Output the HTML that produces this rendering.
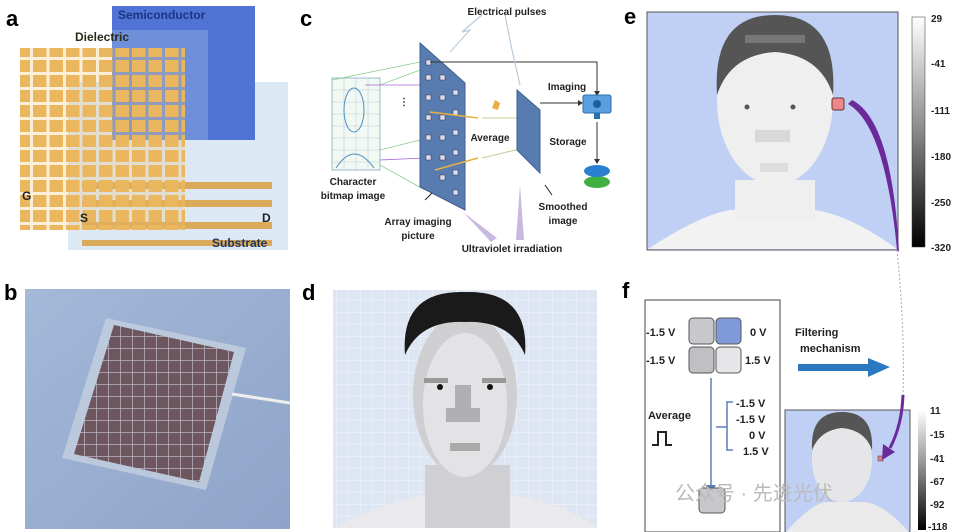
<!DOCTYPE html>
<html><head><meta charset="utf-8"><style>
html,body{margin:0;padding:0;background:#fff;width:955px;height:532px;overflow:hidden}
svg text{font-family:"Liberation Sans","Noto Sans CJK SC",sans-serif;font-weight:bold}
</style></head><body>
<svg width="955" height="532" viewBox="0 0 955 532" xmlns="http://www.w3.org/2000/svg">
<defs>
<pattern id="og" width="16.5" height="15" patternUnits="userSpaceOnUse"><rect x="0" y="0" width="13.5" height="12" fill="#e8b45a"/></pattern>
<pattern id="dg" width="12" height="12" patternUnits="userSpaceOnUse"><rect width="12" height="12" fill="#dde6f2"/><path d="M0 0H12M0 0V12" stroke="#f4f7fb" stroke-width="1"/></pattern>
<pattern id="bg2" width="12" height="12" patternUnits="userSpaceOnUse"><rect width="12" height="12" fill="#6e565e"/><path d="M0 0H12M0 0V12" stroke="#b8b4c4" stroke-width="1.5"/></pattern>
<linearGradient id="cb" x1="0" y1="0" x2="0" y2="1"><stop offset="0" stop-color="#fff"/><stop offset="0.5" stop-color="#888"/><stop offset="1" stop-color="#000"/></linearGradient>
<linearGradient id="ph" x1="0" y1="0" x2="1" y2="1"><stop offset="0" stop-color="#a4b8d8"/><stop offset="1" stop-color="#8ea4c8"/></linearGradient>
</defs>

<!-- a -->
<text x="6" y="26" font-size="22">a</text>
<rect x="68" y="82" width="220" height="168" fill="#dce8f4"/>
<g fill="#d8aa5a">
<rect x="82" y="182" width="190" height="7"/><rect x="82" y="200" width="190" height="7"/><rect x="82" y="222" width="190" height="7"/><rect x="82" y="240" width="190" height="6"/>
</g>
<rect x="112" y="6" width="143" height="134" fill="#4f74d6"/>
<rect x="112" y="30" width="96" height="110" fill="#6e8fd9"/>
<text x="118" y="19" font-size="12" fill="#1d3580">Semiconductor</text>
<rect x="20" y="48" width="165" height="182" fill="url(#og)"/>
<rect x="20" y="48" width="165" height="182" fill="#f2c06a" opacity="0.25"/>
<text x="75" y="41" font-size="12" fill="#2a2a1a">Dielectric</text>
<text x="22" y="200" font-size="12" fill="#222">G</text>
<text x="80" y="222" font-size="12" fill="#222">S</text>
<text x="262" y="222" font-size="12" fill="#222">D</text>
<text x="212" y="247" font-size="12" fill="#1d3560">Substrate</text>

<!-- b -->
<text x="4" y="300" font-size="22">b</text>
<rect x="25" y="289" width="265" height="240" fill="url(#ph)"/>
<polygon points="106,318 246,348 206,490 62,458" fill="#c4d0e0" opacity="0.8"/>
<polygon points="114,325 234,352 199,482 74,454" fill="url(#bg2)"/>
<line x1="232" y1="394" x2="290" y2="403" stroke="#eee" stroke-width="3"/>

<!-- c -->
<text x="300" y="26" font-size="22">c</text>
<text x="507" y="15" font-size="10" fill="#222" text-anchor="middle">Electrical pulses</text>
<rect x="332" y="78" width="48" height="92" fill="#f2f8f2" stroke="#9bc" stroke-width="1"/>
<g stroke="#bcd" stroke-width="0.5"><path d="M332 90H380M332 102H380M332 114H380M332 126H380M332 138H380M332 150H380M332 162H380M344 78V170M356 78V170M368 78V170"/></g>
<ellipse cx="354" cy="110" rx="10" ry="22" fill="none" stroke="#4a90c0"/>
<path d="M336 168 Q354 140 374 168" fill="none" stroke="#4a90c0"/>
<text x="399" y="105" font-size="10" fill="#333">⋮</text>
<g stroke="#8c8" stroke-width="0.8"><line x1="332" y1="80" x2="420" y2="62"/><line x1="380" y1="85" x2="420" y2="70"/><line x1="380" y1="150" x2="420" y2="140"/><line x1="380" y1="165" x2="425" y2="190"/></g>
<g stroke="#a6d" stroke-width="0.8"><line x1="365" y1="85" x2="425" y2="85"/><line x1="380" y1="160" x2="425" y2="158"/></g>
<polygon points="420,43 465,83 465,210 420,187" fill="#587cb0" stroke="#3d5f90"/>
<g fill="#dde" stroke="#335" stroke-width="0.5">
<rect x="426" y="60" width="5" height="5"/><rect x="426" y="75" width="5" height="5"/><rect x="426" y="95" width="5" height="5"/><rect x="426" y="115" width="5" height="5"/><rect x="426" y="135" width="5" height="5"/><rect x="426" y="155" width="5" height="5"/>
<rect x="440" y="75" width="5" height="5"/><rect x="440" y="95" width="5" height="5"/><rect x="440" y="115" width="5" height="5"/><rect x="440" y="135" width="5" height="5"/><rect x="440" y="155" width="5" height="5"/><rect x="440" y="175" width="5" height="5"/>
<rect x="453" y="90" width="5" height="5"/><rect x="453" y="110" width="5" height="5"/><rect x="453" y="130" width="5" height="5"/><rect x="453" y="150" width="5" height="5"/><rect x="453" y="170" width="5" height="5"/><rect x="453" y="190" width="5" height="5"/>
</g>
<g stroke="#e8b040" stroke-width="1.6"><line x1="430" y1="112" x2="478" y2="118"/><line x1="435" y1="170" x2="478" y2="158"/></g>
<g stroke="#cc9" stroke-width="1"><line x1="482" y1="118" x2="522" y2="118"/><line x1="482" y1="158" x2="524" y2="148"/></g>
<polygon points="495,100 500,103 498,110 492,108" fill="#e8b040"/>
<polygon points="517,90 540,110 540,173 517,150" fill="#587cb0" stroke="#3d5f90"/>
<path d="M430 62 H597 V92" fill="none" stroke="#333" stroke-width="1"/>
<polygon points="594,91 600,91 597,96" fill="#333"/>
<path d="M540 103 H578" stroke="#333" stroke-width="1"/>
<polygon points="578,100 583,103 578,106" fill="#333"/>
<rect x="583" y="95" width="28" height="18" rx="2" fill="#5aa0e0" stroke="#2a70b0"/>
<circle cx="597" cy="104" r="4" fill="#1d5ea0"/>
<rect x="594" y="113" width="6" height="6" fill="#2a70b0"/>
<line x1="597" y1="122" x2="597" y2="160" stroke="#333"/>
<polygon points="594,159 600,159 597,164" fill="#333"/>
<ellipse cx="597" cy="182" rx="13" ry="6" fill="#40b040"/>
<ellipse cx="597" cy="171" rx="13" ry="6" fill="#2a80d0"/>
<g stroke="#bcd" stroke-width="1.2" fill="none"><path d="M450 52 L470 30 L462 32 L482 15"/><path d="M520 85 L512 50 L505 15"/></g>
<text x="567" y="90" font-size="10" fill="#222" text-anchor="middle">Imaging</text>
<text x="490" y="141" font-size="10" fill="#222" text-anchor="middle">Average</text>
<text x="568" y="145" font-size="10" fill="#222" text-anchor="middle">Storage</text>
<text x="353" y="185" font-size="10" fill="#222" text-anchor="middle">Character</text>
<text x="353" y="199" font-size="10" fill="#222" text-anchor="middle">bitmap image</text>
<text x="418" y="225" font-size="10" fill="#222" text-anchor="middle">Array imaging</text>
<text x="418" y="239" font-size="10" fill="#222" text-anchor="middle">picture</text>
<text x="563" y="210" font-size="10" fill="#222" text-anchor="middle">Smoothed</text>
<text x="563" y="224" font-size="10" fill="#222" text-anchor="middle">image</text>
<text x="512" y="252" font-size="10" fill="#222" text-anchor="middle">Ultraviolet irradiation</text>
<polygon points="463,212 497,238 491,242" fill="#c9b8e0"/>
<polygon points="520,185 524,240 516,240" fill="#c9b8e0"/>
<line x1="425" y1="200" x2="432" y2="193" stroke="#222"/>
<line x1="552" y1="195" x2="545" y2="185" stroke="#222"/>

<!-- d -->
<text x="302" y="300" font-size="22">d</text>
<rect x="333" y="290" width="264" height="238" fill="url(#dg)"/>
<path d="M333 528 Q390 500 425 495 L505 495 Q560 500 597 528Z" fill="#eaeaec"/>
<rect x="425" y="465" width="85" height="63" fill="#d0d0d4"/>
<ellipse cx="465" cy="395" rx="52" ry="82" fill="#cfcfd2"/>
<ellipse cx="465" cy="405" rx="42" ry="72" fill="#e3e3e5"/>
<path d="M405 355 Q400 290 465 292 Q530 290 525 355 Q510 320 465 322 Q420 320 405 355Z" fill="#1a1a1a"/>
<rect x="455" y="385" width="16" height="30" fill="#b0b0b4"/>
<rect x="446" y="408" width="34" height="14" fill="#b0b0b4"/>
<rect x="424" y="378" width="24" height="5" fill="#999"/><rect x="482" y="378" width="24" height="5" fill="#999"/>
<circle cx="440" cy="387" r="3" fill="#111"/><circle cx="490" cy="387" r="3" fill="#111"/>
<rect x="450" y="443" width="30" height="8" fill="#aaa"/>

<!-- e -->
<text x="624" y="24" font-size="22">e</text>
<rect x="647" y="12" width="251" height="238" fill="#c0d0f4" stroke="#555" stroke-width="1"/>
<path d="M648 249 Q700 215 730 210 L815 210 Q850 215 897 249Z" fill="#f2f2f2"/>
<rect x="735" y="180" width="80" height="40" fill="#efefef"/>
<ellipse cx="775" cy="100" rx="58" ry="85" fill="#efefef"/>
<path d="M717 95 Q712 15 775 15 Q838 15 833 95 Q820 55 775 52 Q730 55 717 95Z" fill="#555"/>
<rect x="745" y="35" width="60" height="8" fill="#777"/>
<rect x="755" y="130" width="35" height="12" fill="#d8d8da"/>
<rect x="760" y="163" width="28" height="9" fill="#dedee0"/>
<circle cx="747" cy="107" r="2.5" fill="#555"/><circle cx="793" cy="107" r="2.5" fill="#555"/>
<rect x="832" y="98" width="12" height="12" rx="2" fill="#e88" stroke="#633"/>
<path d="M848 104 Q885 125 897 250 L899 252 Q892 120 852 100Z" fill="#6a2a9a"/>
<path d="M897 250 Q905 330 903 395" fill="none" stroke="#aaa" stroke-width="1" stroke-dasharray="2,2"/>
<rect x="912" y="17" width="13" height="230" fill="url(#cb)" stroke="#333" stroke-width="0.5"/>
<g font-size="10" fill="#222">
<text x="931" y="22">29</text><text x="931" y="67">-41</text><text x="931" y="114">-111</text><text x="931" y="160">-180</text><text x="931" y="206">-250</text><text x="931" y="251">-320</text>
</g>

<!-- f -->
<text x="622" y="298" font-size="22">f</text>
<rect x="645" y="300" width="135" height="232" fill="#fff" stroke="#444" stroke-width="1"/>
<rect x="689" y="318" width="25" height="26" rx="4" fill="#c8c8cc" stroke="#555"/>
<rect x="716" y="318" width="25" height="26" rx="4" fill="#7f9ad8" stroke="#555"/>
<rect x="689" y="347" width="25" height="26" rx="4" fill="#c0c0c4" stroke="#555"/>
<rect x="716" y="347" width="25" height="26" rx="4" fill="#e6e6e8" stroke="#555"/>
<g font-size="11" fill="#222">
<text x="646" y="336">-1.5 V</text><text x="750" y="336">0 V</text><text x="646" y="364">-1.5 V</text><text x="745" y="364">1.5 V</text>
<text x="736" y="407">-1.5 V</text><text x="736" y="423">-1.5 V</text><text x="749" y="439">0 V</text><text x="743" y="455">1.5 V</text>
<text x="648" y="419">Average</text>
</g>
<line x1="711" y1="378" x2="711" y2="485" stroke="#5a7fb8" stroke-width="1.5"/>
<polygon points="706,485 716,485 711,493" fill="#5a7fb8"/>
<path d="M733 402 H727 V450 H733 M727 427 H716" fill="none" stroke="#5a7fb8" stroke-width="1.5"/>
<path d="M652 445 H658 V432 H666 V445 H672" fill="none" stroke="#222" stroke-width="2"/>
<rect x="699" y="488" width="26" height="25" rx="4" fill="#c8c8cc" stroke="#555"/>
<text x="795" y="336" font-size="11" fill="#222">Filtering</text>
<text x="800" y="352" font-size="11" fill="#222">mechanism</text>
<rect x="798" y="364" width="72" height="7" fill="#2a78c0"/>
<polygon points="868,358 890,367 868,377" fill="#2a78c0"/>
<rect x="785" y="410" width="125" height="122" fill="#c0d0f4" stroke="#555"/>
<path d="M786 532 Q810 505 825 502 L865 502 Q885 505 909 532Z" fill="#eaeaea"/>
<ellipse cx="842" cy="460" rx="30" ry="42" fill="#e6e6e8"/>
<path d="M812 450 Q810 412 842 412 Q874 412 872 450 Q865 430 842 428 Q820 430 812 450Z" fill="#555"/>
<rect x="878" y="456" width="5" height="5" fill="#c88" stroke="#633" stroke-width="0.5"/>
<path d="M903 395 Q902 425 890 448" fill="none" stroke="#6a2a9a" stroke-width="3"/>
<polygon points="883,444 895,452 882,460" fill="#6a2a9a"/>
<rect x="918" y="410" width="8" height="120" fill="url(#cb)"/>
<g font-size="10" fill="#222">
<text x="930" y="414">11</text><text x="930" y="438">-15</text><text x="930" y="462">-41</text><text x="930" y="485">-67</text><text x="930" y="508">-92</text><text x="928" y="530">-118</text>
</g>
<text x="675" y="500" font-size="20" fill="#bbb" style="font-weight:normal">公众号 · 先进光伏</text>
</svg>
</body></html>
